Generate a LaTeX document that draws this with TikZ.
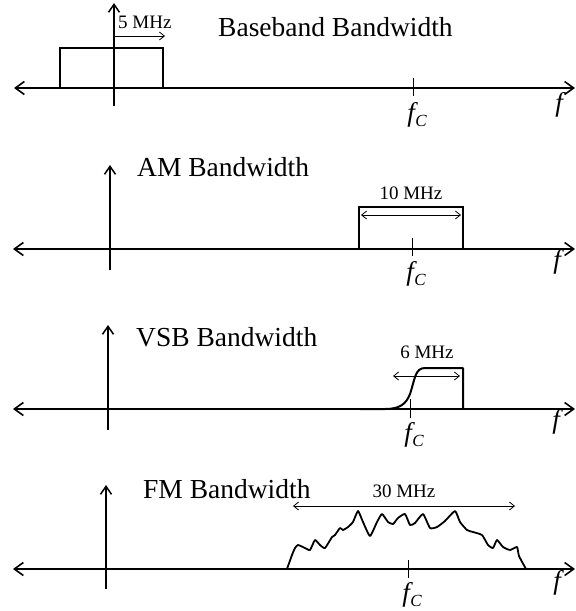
\documentclass[tikz,border=0pt]{standalone}
\usepackage{fontspec}
\setmainfont{Liberation Serif}[ItalicFont={Liberation Serif Italic},BoldFont={Liberation Serif Bold}]
\newfontfamily\itfont{Liberation Serif Italic}
\usetikzlibrary{arrows.meta}
\newcommand\myfc{{\itfont f}\kern0.5pt\raisebox{-5pt}{\fontsize{17}{17}\selectfont\itfont C}}
\begin{document}
\begin{tikzpicture}[x=1pt,y=-1pt,
  axis/.style={line width=2pt,{Straight Barb[length=9pt,width=13pt,line width=1.6pt]}-{Straight Barb[length=9pt,width=13pt,line width=1.6pt]}},
  vaxis/.style={line width=1.8pt,-{Straight Barb[length=8pt,width=11pt,line width=1.5pt]}},
  band/.style={line width=2pt,line join=miter},
  dim/.style={line width=0.8pt,{Straight Barb[length=5pt,width=8pt]}-{Straight Barb[length=5pt,width=8pt]}},
  dimr/.style={line width=0.8pt,-{Straight Barb[length=5pt,width=8pt]}},
  tick/.style={line width=1pt},
  title/.style={font=\fontsize{27.5}{30}\selectfont,anchor=base west,inner sep=0pt},
  mhz/.style={font=\fontsize{19}{21}\selectfont,anchor=base,inner sep=0pt},
  flab/.style={font=\fontsize{27}{30}\selectfont,inner sep=0pt}]
\useasboundingbox (0,0) rectangle (576,611);

% ---------- Panel 1: Baseband ----------
\coordinate (a1l) at (14,88); \coordinate (a1r) at (575,88);
\coordinate (v1b) at (114,106); \coordinate (v1t) at (114,3);
\draw[axis] (a1l) -- (a1r);
\draw[vaxis] (v1b) -- (v1t);
\draw[band] (60,88) -- (60,48) -- (163,48) -- (163,88);
\coordinate (d1a) at (114,36); \coordinate (d1b) at (165,36);
\draw[dimr] (d1a) -- (d1b);
\node[mhz,anchor=base west] (m1) at (118,28) {5 MHz};
\node[title] (t1) at (218,36) {Baseband Bandwidth};
\coordinate (k1a) at (413,78); \coordinate (k1b) at (413,96);
\draw[tick] (k1a) -- (k1b);
\node[flab] (fc1) at (417,115) {\myfc};
\node[flab] (f1) at (559,105) {\itfont f};

% ---------- Panel 2: AM ----------
\coordinate (a2l) at (13,249); \coordinate (a2r) at (575,249);
\coordinate (v2b) at (110,270); \coordinate (v2t) at (110,165);
\draw[axis] (a2l) -- (a2r);
\draw[vaxis] (v2b) -- (v2t);
\draw[band] (359,249) -- (359,207) -- (463,207) -- (463,249);
\coordinate (d2a) at (361,215); \coordinate (d2b) at (461,215);
\draw[dim] (d2a) -- (d2b);
\node[mhz] (m2) at (411,199) {10 MHz};
\node[title] (t2) at (137,176) {AM Bandwidth};
\coordinate (k2a) at (412,238); \coordinate (k2b) at (412,256);
\draw[tick] (k2a) -- (k2b);
\node[flab] (fc2) at (416,274) {\myfc};
\node[flab] (f2) at (557,262) {\itfont f};

% ---------- Panel 3: VSB ----------
\coordinate (a3l) at (13,409); \coordinate (a3r) at (575,409);
\coordinate (v3b) at (108,430); \coordinate (v3t) at (108,325);
\draw[axis] (a3l) -- (a3r);
\draw[vaxis] (v3b) -- (v3t);
\draw[band,line join=round] (360,409) -- (385,409) .. controls (400,409) and (406,404) .. (410,394)
  .. controls (415,379) and (415,368) .. (425,368) -- (463,368) -- (463,409);
\coordinate (d3a) at (393,376); \coordinate (d3b) at (460,376);
\draw[dim] (d3a) -- (d3b);
\node[mhz] (m3) at (427,358) {6 MHz};
\node[title] (t3) at (136,346) {VSB Bandwidth};
\coordinate (k3a) at (410,399); \coordinate (k3b) at (410,418);
\draw[tick] (k3a) -- (k3b);
\node[flab] (fc3) at (414,435) {\myfc};
\node[flab] (f3) at (556,422) {\itfont f};

% ---------- Panel 4: FM ----------
\coordinate (a4l) at (13,569); \coordinate (a4r) at (575,569);
\coordinate (v4b) at (106,589); \coordinate (v4t) at (106,485);
\draw[axis] (a4l) -- (a4r);
\draw[vaxis] (v4b) -- (v4t);
\draw[line width=1.8pt,line join=round] plot[smooth,tension=0.3] coordinates {
 (287,569) (292,555) (295,548) (298,545) (305,548) (310,550) (315,540) (320,545) (325,548)
 (332,537) (335,535) (340,528) (343,530) (348,527) (353,522) (358,511) (363,522) (370,536)
 (377,522) (382,514) (388,522) (393,524) (398,518) (405,514) (410,525) (415,523) (423,514)
 (430,528) (437,527) (445,521) (455,511) (460,522) (467,530) (473,532) (482,535) (488,545)
 (493,548) (497,540) (503,547) (510,550) (517,547) (519,556) (526,569)};
\coordinate (d4a) at (293,506); \coordinate (d4b) at (515,506);
\draw[dim] (d4a) -- (d4b);
\node[mhz] (m4) at (404,497) {30 MHz};
\node[title] (t4) at (143,498) {FM Bandwidth};
\coordinate (k4a) at (408,560); \coordinate (k4b) at (408,578);
\draw[tick] (k4a) -- (k4b);
\node[flab] (fc4) at (412,595) {\myfc};
\node[flab] (f4) at (557,583) {\itfont f};
\end{tikzpicture}
\end{document}
